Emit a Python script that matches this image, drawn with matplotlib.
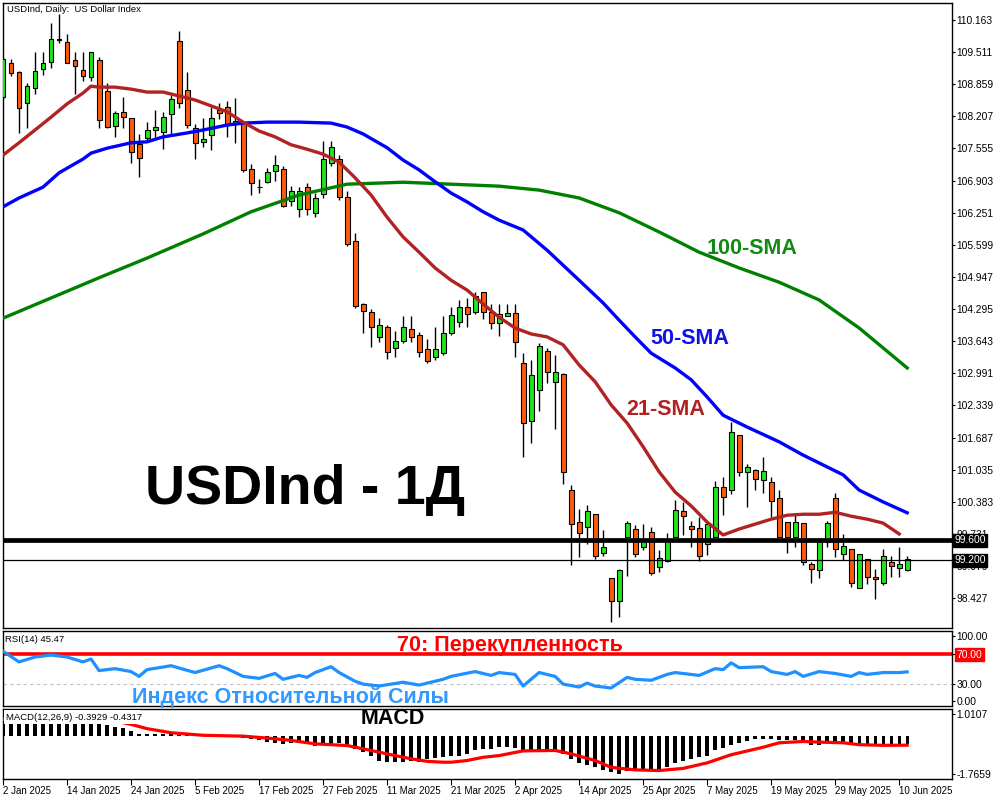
import matplotlib
matplotlib.use('Agg')
import matplotlib.pyplot as plt
from matplotlib.patches import Rectangle
from matplotlib.transforms import blended_transform_factory
import numpy as np

plt.rcParams['font.family'] = ['Liberation Sans', 'DejaVu Sans']

# daily OHLC, 2 Jan 2025 .. 11 Jun 2025 (one entry per bar)
opens = [108.60, 109.29, 109.11, 108.48, 108.78, 109.17, 109.31, 109.76, 109.72, 109.35,
         109.15, 109.01, 109.35, 108.72, 108.01, 108.30, 108.17, 107.65, 107.77, 107.93,
         107.89, 108.26, 109.74, 108.74, 107.97, 107.69, 107.83, 108.34, 108.40, 108.05,
         108.07, 107.14, 106.78, 106.88, 107.10, 107.14, 106.49, 106.33, 106.77, 106.25,
         106.63, 107.26, 107.34, 106.57, 105.68, 104.40, 104.24, 103.73, 103.93, 103.50,
         103.65, 103.89, 103.77, 103.48, 103.32, 103.40, 103.81, 104.03, 104.34, 104.24,
         104.64, 104.24, 104.01, 104.15, 104.21, 103.20, 102.02, 102.65, 103.44, 102.82,
         102.98, 100.62, 99.97, 99.87, 100.13, 99.34, 98.84, 98.37, 99.67, 99.83,
         99.47, 99.77, 99.06, 99.18, 99.67, 100.20, 99.89, 99.85, 99.53, 99.67,
         100.68, 100.62, 101.74, 100.99, 101.03, 100.83, 100.78, 100.46, 99.97, 99.67,
         99.95, 99.12, 99.00, 99.57, 100.46, 99.32, 99.43, 98.63, 99.22, 98.86,
         98.73, 99.16, 99.04, 99.00]
highs = [109.41, 109.37, 109.13, 108.88, 109.51, 109.51, 110.10, 110.29, 109.88, 109.51,
         109.51, 109.51, 109.41, 108.88, 108.32, 108.60, 108.17, 107.85, 108.09, 108.34,
         108.30, 108.64, 109.94, 109.11, 108.05, 108.17, 108.40, 108.48, 108.52, 108.58,
         108.09, 107.24, 106.93, 107.16, 107.42, 107.20, 106.79, 106.77, 106.85, 106.65,
         107.71, 107.71, 107.42, 106.69, 105.84, 104.42, 104.30, 104.11, 103.97, 103.85,
         104.15, 104.15, 103.83, 103.69, 103.93, 104.15, 104.34, 104.48, 104.52, 104.64,
         104.64, 104.40, 104.40, 104.40, 104.40, 103.40, 103.26, 103.61, 103.50, 103.36,
         103.00, 100.72, 100.24, 100.32, 100.13, 99.81, 98.84, 99.02, 99.99, 99.91,
         99.93, 99.87, 99.40, 99.75, 100.42, 100.38, 99.99, 100.07, 99.97, 100.80,
         100.88, 102.00, 101.74, 101.15, 101.05, 101.29, 100.88, 100.62, 99.97, 100.16,
         99.95, 99.16, 99.63, 99.99, 100.56, 99.73, 99.43, 99.32, 99.22, 99.02,
         99.43, 99.28, 99.47, 99.28]
lows = [108.56, 109.03, 107.87, 107.97, 108.66, 109.05, 109.19, 109.70, 109.29, 108.66,
        108.93, 108.93, 107.97, 107.97, 107.79, 107.97, 107.26, 106.98, 107.73, 107.79,
        107.54, 107.83, 108.38, 107.97, 107.34, 107.58, 107.52, 108.15, 107.79, 107.67,
        107.08, 106.61, 106.65, 106.85, 106.90, 106.37, 106.39, 106.16, 106.20, 106.16,
        106.55, 107.20, 106.51, 105.58, 104.32, 103.81, 103.53, 103.63, 103.28, 103.32,
        103.61, 103.63, 103.32, 103.20, 103.26, 103.36, 103.77, 103.93, 103.93, 104.19,
        104.09, 103.89, 103.75, 104.15, 103.32, 101.29, 101.58, 102.23, 102.79, 101.86,
        100.74, 99.10, 99.26, 99.53, 99.22, 99.28, 97.94, 98.04, 98.88, 99.26,
        99.40, 98.90, 98.96, 99.16, 99.65, 99.71, 99.47, 99.18, 99.30, 99.67,
        100.11, 100.54, 100.91, 100.28, 100.62, 100.56, 100.07, 99.67, 99.34, 99.47,
        99.10, 98.73, 98.84, 99.47, 99.26, 99.20, 98.65, 98.63, 98.71, 98.41,
        98.69, 98.86, 98.86, 98.98]
closes = [109.37, 109.09, 108.38, 108.82, 109.13, 109.29, 109.78, 109.77, 109.29, 109.23,
          109.03, 109.51, 108.13, 107.99, 108.28, 108.19, 107.48, 107.36, 107.93, 107.99,
          108.19, 108.56, 108.48, 108.03, 107.67, 107.75, 108.17, 108.28, 108.03, 108.11,
          107.12, 106.85, 106.77, 107.08, 107.22, 106.39, 106.69, 106.69, 106.33, 106.55,
          107.34, 107.58, 106.57, 105.62, 104.36, 104.26, 103.93, 103.97, 103.42, 103.65,
          103.93, 103.73, 103.42, 103.24, 103.48, 103.81, 104.17, 104.34, 104.19, 104.56,
          104.24, 104.01, 104.19, 104.21, 103.63, 101.98, 102.96, 103.55, 103.02, 103.02,
          100.99, 99.93, 99.75, 100.20, 99.28, 99.47, 98.37, 99.00, 99.95, 99.32,
          99.59, 98.94, 99.24, 99.59, 100.22, 100.09, 99.83, 99.28, 99.93, 100.68,
          100.48, 101.80, 100.99, 101.09, 100.85, 101.01, 100.40, 99.67, 99.67, 99.97,
          99.16, 99.02, 99.59, 99.95, 99.43, 99.49, 98.73, 99.32, 98.86, 98.82,
          99.28, 99.08, 99.12, 99.22]

# moving averages (bar index, value)
sma21_bars = [0, 2, 4, 6, 8, 10, 11, 12] + list(range(14, 113, 2))
sma21 = [107.42, 107.67, 107.93, 108.19, 108.46, 108.68, 108.82, 108.80,
         108.80, 108.76, 108.70, 108.70, 108.62, 108.54, 108.42, 108.30, 108.09, 107.91,
         107.79, 107.63, 107.54, 107.44, 107.28, 106.96, 106.61, 106.16, 105.76, 105.45,
         105.13, 104.88, 104.68, 104.40, 104.13, 103.91, 103.79, 103.73, 103.57, 103.16,
         102.82, 102.35, 101.98, 101.50, 100.99, 100.58, 100.30, 99.97, 99.71, 99.83,
         99.93, 100.03, 100.11, 100.13, 100.13, 100.17, 100.09, 100.03, 99.95, 99.73]
sma50_bars = [0, 2, 5, 7, 10, 11, 13, 16, 18, 20, 23, 25, 28, 30, 33, 37, 41, 43, 45, 48,
              50, 52, 54, 56, 58, 60, 62, 65, 68, 72, 75, 77, 79, 81, 84, 86, 88, 90, 93, 97,
              100, 102, 105, 107, 110, 113]
sma50 = [106.37, 106.55, 106.77, 107.06, 107.34, 107.46, 107.56, 107.67, 107.69, 107.79,
         107.87, 107.93, 108.03, 108.07, 108.09, 108.09, 108.07, 107.99, 107.85, 107.57,
         107.32, 107.12, 106.88, 106.65, 106.47, 106.27, 106.10, 105.90, 105.49, 104.88,
         104.42, 104.07, 103.73, 103.40, 103.10, 102.86, 102.51, 102.14, 101.90, 101.60,
         101.33, 101.17, 100.93, 100.62, 100.38, 100.16]
sma100_bars = [0, 6, 12, 18, 25, 31, 37, 43, 50, 56, 62, 67, 72, 77, 82, 87, 92, 97, 102,
               107, 113]
sma100 = [104.11, 104.52, 104.93, 105.33, 105.82, 106.27, 106.61, 106.83, 106.87, 106.83,
          106.79, 106.71, 106.55, 106.25, 105.86, 105.45, 105.13, 104.84, 104.48, 103.91,
          103.10]

# RSI(14)
rsi_bars = [0, 2, 4, 6, 8, 10, 11, 12, 14, 16, 17, 18, 21, 24, 27, 28, 30, 32, 34, 35,
            37, 38, 39, 41, 42, 44, 45, 47, 50, 52, 55, 56, 59, 61, 62, 64, 65, 67, 69, 70,
            72, 73, 74, 76, 78, 79, 81, 83, 84, 87, 89, 90, 91, 92, 95, 96, 98, 99, 100, 102,
            104, 106, 107, 108, 110, 112, 113]
rsi = [73.0, 58.8, 65.3, 67.9, 65.3, 58.8, 62.7, 47.2, 49.8, 45.9,
       39.5, 48.5, 53.7, 44.6, 53.7, 49.8, 39.5, 36.9, 43.4, 35.6,
       40.8, 38.2, 44.6, 52.4, 44.6, 33.0, 29.2, 26.6, 31.7, 27.9,
       35.6, 39.5, 45.9, 40.8, 44.6, 42.1, 26.6, 44.6, 39.5, 29.2,
       25.3, 30.5, 26.6, 24.0, 38.2, 35.6, 34.3, 42.1, 44.6, 40.8,
       49.8, 48.5, 57.5, 51.1, 52.4, 45.9, 42.1, 45.9, 39.5, 45.9,
       43.4, 39.5, 44.6, 42.1, 44.6, 44.6, 45.47]

# MACD(12,26,9): main line as histogram, one value per bar
macd = [0.95, 0.98, 1.0107, 1.00, 0.98, 0.96, 0.97, 0.99, 0.96, 0.90, 0.84, 0.76, 0.64, 0.52,
        0.41, 0.35, 0.21, 0.10, 0.09, 0.08, 0.08, 0.07,
        0.05, 0.03, 0.02, 0.01, 0.0, -0.01, -0.02, -0.05, -0.10,
        -0.13, -0.21, -0.29, -0.32, -0.37, -0.32, -0.29, -0.37, -0.45, -0.41,
        -0.37, -0.32, -0.45, -0.60, -0.76, -0.92, -1.15, -1.20, -1.20, -1.20,
        -1.15, -1.23, -1.07, -1.03, -1.00, -0.95, -0.92, -0.84, -0.68, -0.60,
        -0.60, -0.54,
        -0.53, -0.57, -0.68, -0.68, -0.68, -0.68, -0.68, -0.84, -1.07, -1.26,
        -1.36, -1.47, -1.58, -1.70, -1.7659, -1.66, -1.66, -1.58, -1.58, -1.58,
        -1.47, -1.26, -1.15, -1.07, -1.00, -0.92, -0.68, -0.57, -0.41, -0.32,
        -0.24, -0.16, -0.13, -0.13, -0.18, -0.21, -0.21, -0.24, -0.41, -0.41,
        -0.32, -0.32, -0.32, -0.32, -0.37, -0.45, -0.45, -0.45, -0.41, -0.41,
        -0.3929]
signal_bars = [0, 4, 8, 12, 14, 16, 18, 21, 25, 30, 33, 36, 39, 43, 46, 49, 51, 53, 55, 56,
               58, 60, 62, 65, 69, 71, 74, 76, 79, 82, 85, 88, 91, 95, 97, 100, 102, 105, 107,
               110, 113]
signal = [0.78, 0.88, 0.93, 0.82, 0.70, 0.54, 0.34, 0.15, 0.03, -0.01,
          -0.10, -0.21, -0.37, -0.45, -0.68, -0.92, -1.07, -1.19, -1.23, -1.23,
          -1.15, -1.00, -0.92, -0.70, -0.68, -0.84, -1.15, -1.47, -1.59, -1.62,
          -1.52, -1.26, -0.88, -0.53, -0.32, -0.26, -0.29, -0.32, -0.41, -0.44,
          -0.4317]

date_labels = ['2 Jan 2025', '14 Jan 2025', '24 Jan 2025', '5 Feb 2025', '17 Feb 2025',
               '27 Feb 2025', '11 Mar 2025', '21 Mar 2025', '2 Apr 2025', '14 Apr 2025',
               '25 Apr 2025', '7 May 2025', '19 May 2025', '29 May 2025', '10 Jun 2025']
price_ticks = [110.163, 109.511, 108.859, 108.207, 107.555, 106.903, 106.251, 105.599,
               104.947, 104.295, 103.643, 102.991, 102.339, 101.687, 101.035, 100.383,
               99.731, 99.079, 98.427]
level_hi = 99.600
level_lo = 99.200

BULL = '#1ee61e'
BEAR = '#ff5a0a'
LABEL_SIZE = 15.5

W, H = 1000, 800
fig = plt.figure(figsize=(W / 100, H / 100), dpi=100)


def fx(px):
    return px / W


def fy(py):
    return 1 - py / H


def panel(top, bottom):
    a = fig.add_axes([fx(3), fy(bottom), fx(952) - fx(3), fy(top) - fy(bottom)])
    for s in a.spines.values():
        s.set_color('black')
        s.set_linewidth(1)
    a.set_xlim(0, 118.6)
    return a


ax = panel(3, 628)
ax_rsi = panel(631, 706)
ax_macd = panel(709, 779)

# ---- price panel ----
o, h, l, c = map(np.array, (opens, highs, lows, closes))
idx = np.arange(len(o))
up = c >= o
ax.vlines(idx, l, h, color='black', lw=1, zorder=2)
ax.bar(idx, np.maximum(np.abs(c - o), 0.012), bottom=np.minimum(o, c), width=0.62,
       color=np.where(up, BULL, BEAR), edgecolor='black', linewidth=0.8, zorder=3)

for bars, vals, col in ((sma100_bars, sma100, '#008000'),
                        (sma50_bars, sma50, '#0000ff'),
                        (sma21_bars, sma21, '#b22222')):
    ax.plot(bars, vals, color=col, lw=2.4, zorder=4, solid_joinstyle='round')

ax.axhline(level_hi, color='black', lw=3.4, zorder=5)
ax.axhline(level_lo, color='black', lw=0.9, zorder=5)

ax.set_ylim(97.821, 110.508)
ax.set_xticks([])
ax.yaxis.tick_right()
ax.set_yticks(price_ticks)
ax.set_yticklabels(['%.3f' % t for t in price_ticks])
ax.tick_params(axis='y', length=2.5, width=0.8, pad=0.6, labelsize=7.4)

tr = blended_transform_factory(ax.transAxes, ax.transData)
for lvl in (level_hi, level_lo):
    ax.text(1.0022, lvl, '%.3f' % lvl, transform=tr, ha='left', va='center', fontsize=7.4,
            color='white', clip_on=False, zorder=10,
            bbox=dict(boxstyle='square,pad=0.15', fc='black', ec='black'))

fig.text(fx(7), fy(9), 'USDInd, Daily:  US Dollar Index', fontsize=6.8, va='center')
fig.text(fx(752), fy(249), '100-SMA', fontsize=LABEL_SIZE, fontweight='bold',
         color='#138a13', ha='center', va='center')
fig.text(fx(690), fy(338), '50-SMA', fontsize=LABEL_SIZE, fontweight='bold',
         color='#1010e8', ha='center', va='center')
fig.text(fx(666), fy(410), '21-SMA', fontsize=LABEL_SIZE, fontweight='bold',
         color='#b22222', ha='center', va='center')
fig.text(fx(305), fy(490), 'USDInd - 1Д', fontsize=40, fontweight='bold', color='black',
         ha='center', va='center')

# ---- RSI panel ----
ax_rsi.set_ylim(0, 100)
ax_rsi.axhline(70, color='#ff0000', lw=2.6, zorder=2)
ax_rsi.axhline(30, color='#c0c0c0', lw=0.8, ls=(0, (3, 3)), zorder=1)
ax_rsi.plot(rsi_bars, rsi, color='#1e90ff', lw=2.3, zorder=3)
ax_rsi.set_xticks([])
ax_rsi.yaxis.tick_right()
ax_rsi.set_yticks([93.3, 70, 30, 6.7])
ax_rsi.set_yticklabels(['100.00', '70.00', '30.00', '0.00'])
ax_rsi.tick_params(axis='y', length=2.5, width=0.8, pad=0.6, labelsize=7.4)
lab70 = ax_rsi.get_yticklabels()[1]
lab70.set_color('white')
lab70.set_bbox(dict(boxstyle='square,pad=0.15', fc='#ff0000', ec='#ff0000'))

fig.text(fx(5), fy(639), 'RSI(14) 45.47', fontsize=6.8, va='center')
fig.text(fx(510), fy(645), '70: Перекупленность', fontsize=LABEL_SIZE, fontweight='bold',
         color='#ff0000', ha='center', va='center')
fig.text(fx(290), fy(697), 'Индекс Относительной Силы', fontsize=LABEL_SIZE,
         fontweight='bold', color='#3399ff', ha='center', va='center')

# ---- MACD panel ----
m = np.array(macd)
pad = 0.25
ax_macd.set_ylim(m.min() - pad, m.max() + pad)
ax_macd.bar(np.arange(len(m)), m, width=0.42, color='black', zorder=2)
ax_macd.plot(signal_bars, signal, color='#ff0000', lw=2.3, zorder=3)
ax_macd.yaxis.tick_right()
ax_macd.set_yticks([m.max(), m.min()])
ax_macd.set_yticklabels(['%.4f' % m.max(), '%.4f' % m.min()])
ax_macd.tick_params(axis='y', length=2.5, width=0.8, pad=0.6, labelsize=7.4)
ax_macd.set_xticks(range(0, 8 * len(date_labels), 8))
ax_macd.set_xticklabels(date_labels)
ax_macd.tick_params(axis='x', length=4, width=0.8, pad=1, labelsize=7)
for t in ax_macd.get_xticklabels():
    t.set_ha('left')

# name strip hides the top of the subwindow like the terminal does
ax_macd.add_patch(Rectangle((fx(4), fy(724)), fx(140) - fx(4), fy(710) - fy(724),
                            transform=fig.transFigure, fc='white', ec='none', zorder=6))
fig.text(fx(6), fy(718), 'MACD(12,26,9) -0.3929 -0.4317', fontsize=6.8, va='center',
         zorder=7)
fig.text(fx(393), fy(719), 'MACD', fontsize=LABEL_SIZE, fontweight='bold', color='black',
         ha='center', va='center', zorder=7)

fig.savefig('out.png', dpi=100)
